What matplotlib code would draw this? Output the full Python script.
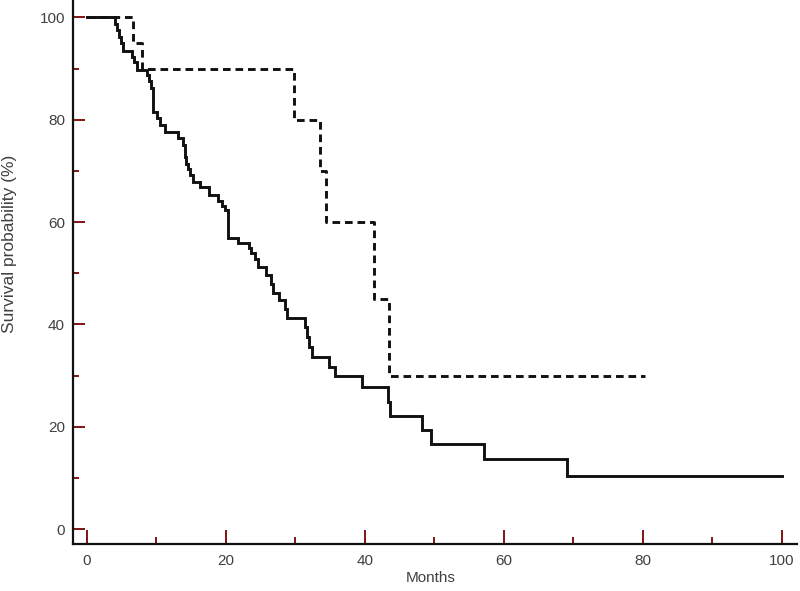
import matplotlib
matplotlib.use("Agg")
import matplotlib.pyplot as plt
from matplotlib.ticker import MultipleLocator

plt.rcParams['font.family'] = ['Liberation Sans', 'DejaVu Sans']
plt.rcParams['lines.scale_dashes'] = False

# Solid curve (step function, survival after each event)
solid_months = [0, 4.0, 4.4, 4.7, 5.0, 5.2, 6.5, 6.8, 7.2, 8.7, 9.0, 9.3, 9.5, 9.6,
                10.1, 10.5, 11.3, 13.2, 13.9, 14.1, 14.3, 14.6, 14.9, 15.3, 16.3,
                17.6, 18.9, 19.4, 19.9, 20.3, 21.8, 23.4, 23.7, 24.2, 24.6, 25.8,
                26.5, 26.8, 27.6, 28.5, 28.8, 31.4, 31.7, 32.0, 32.4, 34.9, 35.7,
                39.6, 43.4, 43.6, 48.3, 49.6, 57.2, 69.1, 100.0]
solid_surv = [100, 98.8, 97.5, 96.2, 95.0, 93.5, 92.3, 91.2, 89.8, 88.8, 87.6, 86.2, 83.8, 81.5,
              80.3, 79.0, 77.6, 76.4, 75.0, 72.8, 71.4, 70.3, 69.2, 67.9, 66.8,
              65.2, 64.2, 63.2, 62.3, 56.9, 55.9, 54.9, 54.0, 52.8, 51.3, 49.7,
              48.0, 46.2, 44.8, 43.1, 41.3, 39.6, 37.6, 35.6, 33.7, 31.7, 29.9,
              27.8, 24.9, 22.2, 19.4, 16.7, 13.8, 10.3, 10.3]

# Dashed curve
dashed_months = [0, 6.7, 7.9, 29.8, 33.6, 34.5, 41.3, 43.5, 80.3]
dashed_surv = [100, 95, 90, 80, 70, 60, 45, 30, 30]

x_ticks = [0, 20, 40, 60, 80, 100]
y_ticks = [0, 20, 40, 60, 80, 100]

fig = plt.figure(figsize=(8.0, 5.91), dpi=100)
ax = fig.add_axes([73.3 / 800, 1 - 544 / 591, (797 - 73.3) / 800, 544 / 591])

ax.step(solid_months, solid_surv, where='post', color='#111111', lw=2.1,
        solid_joinstyle='miter')
ax.step(dashed_months, dashed_surv, where='post', color='#111111', lw=2.1,
        dashes=[5.5, 3.5])

ax.set_xlim(-1.93, 102.2)
ax.set_ylim(-2.9, 103.4)

ax.set_xticks(x_ticks)
ax.set_yticks(y_ticks)
ax.xaxis.set_minor_locator(MultipleLocator(10))
ax.yaxis.set_minor_locator(MultipleLocator(10))

tick_col = '#7a0000'
ax.tick_params(axis='x', which='major', direction='in', length=10, width=1.3,
               color=tick_col, labelsize=11, labelcolor='#404040', pad=7)
ax.tick_params(axis='x', which='minor', direction='in', length=5, width=1.3,
               color=tick_col)
ax.tick_params(axis='y', which='major', direction='in', length=8.5, width=1.3,
               color=tick_col, labelsize=11, labelcolor='#404040', pad=6)
ax.tick_params(axis='y', which='minor', direction='in', length=4.3, width=1.3,
               color=tick_col)

for s in ['top', 'right']:
    ax.spines[s].set_visible(False)
for s in ['left', 'bottom']:
    ax.spines[s].set_linewidth(1.6)
    ax.spines[s].set_color('#111111')

fig.text(431 / 800, 1 - 578 / 591, 'Months', ha='center', va='center',
         fontsize=11, color='#404040')
fig.text(10 / 800, 1 - 244 / 591, 'Survival probability (%)', ha='center',
         va='center', rotation=90, fontsize=12.5, color='#404040')

fig.savefig('out.png', dpi=100)
